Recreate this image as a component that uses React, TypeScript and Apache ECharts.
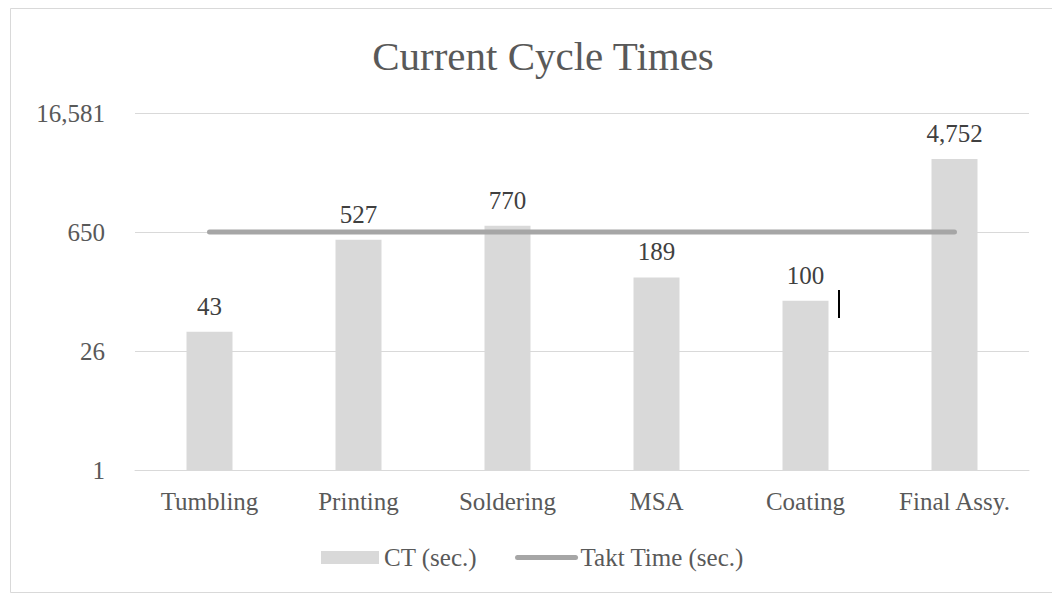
import React, { useEffect, useRef } from "react";
import * as echarts from "echarts";

const categories = ["Tumbling", "Printing", "Soldering", "MSA", "Coating", "Final Assy."];
const ctValues = [43, 527, 770, 189, 100, 4752];
const taktValues = [650, 650, 650, 650, 650, 650];
const logBase = 25.5;
const axisMin = 1;
const axisMax = 16581.375;

const FONT = "'Liberation Serif', 'Times New Roman', serif";

export default function App() {
  const ref = useRef<HTMLDivElement>(null);
  useEffect(() => {
    if (!ref.current) return;
    const chart = echarts.init(ref.current, undefined, { renderer: "svg" });
    chart.setOption({
      animation: false,
      backgroundColor: "#ffffff",
      textStyle: { fontFamily: FONT },
      title: {
        text: "Current Cycle Times",
        left: 530,
        textAlign: "center",
        top: 22,
        textStyle: { fontFamily: FONT, fontSize: 41, fontWeight: "normal", color: "#595959" },
      },
      graphic: [
        {
          type: "rect",
          shape: { x: 2.5, y: 0.5, width: 1100, height: 584 },
          style: { fill: "none", stroke: "#d9d9d9", lineWidth: 1 },
          silent: true,
          z: -1,
        },
        {
          type: "rect",
          shape: { x: 830, y: 282, width: 2, height: 28 },
          style: { fill: "#000000" },
          silent: true,
        },
      ],
      legend: {
        left: 308,
        top: 532,
        itemWidth: 58,
        itemHeight: 13,
        itemGap: 38,
        textStyle: { fontFamily: FONT, fontSize: 25, color: "#595959" },
        data: [
          { name: "CT (sec.)", icon: "rect" },
          {
            name: "Takt Time (sec.)",
            itemStyle: { opacity: 0 },
            lineStyle: { color: "#a6a6a6", width: 5, cap: "round" },
          },
        ],
      },
      grid: { left: 127, right: 31, top: 105, bottom: 125, containLabel: false },
      xAxis: {
        type: "category",
        data: categories,
        axisLine: { show: true, lineStyle: { color: "#d9d9d9", width: 1 } },
        axisTick: { show: false },
        axisLabel: { fontFamily: FONT, fontSize: 25, color: "#595959", margin: 19, interval: 0 },
      },
      yAxis: {
        type: "log",
        logBase: logBase,
        min: axisMin,
        max: axisMax,
        splitNumber: 3,
        axisLine: { show: false },
        axisTick: { show: false },
        splitLine: { show: true, lineStyle: { color: "#d9d9d9", width: 1 } },
        axisLabel: {
          fontFamily: FONT,
          fontSize: 25,
          color: "#595959",
          margin: 30,
          formatter: (v: number) => Math.round(v).toLocaleString("en-US"),
        },
      },
      series: [
        {
          name: "CT (sec.)",
          type: "bar",
          data: ctValues,
          barWidth: 46,
          itemStyle: { color: "#d9d9d9" },
          label: {
            show: true,
            position: "top",
            distance: 13,
            fontFamily: FONT,
            fontSize: 25,
            color: "#404040",
            formatter: (p: any) => Number(p.value).toLocaleString("en-US"),
          },
        },
        {
          name: "Takt Time (sec.)",
          type: "line",
          data: taktValues,
          symbol: "none",
          showSymbol: false,
          itemStyle: { color: "#a6a6a6" },
          lineStyle: { color: "#a6a6a6", width: 5, cap: "round" },
          z: 3,
        },
      ],
    });
    return () => chart.dispose();
  }, []);
  return <div ref={ref} style={{ width: 1052, height: 587 }} />;
}
